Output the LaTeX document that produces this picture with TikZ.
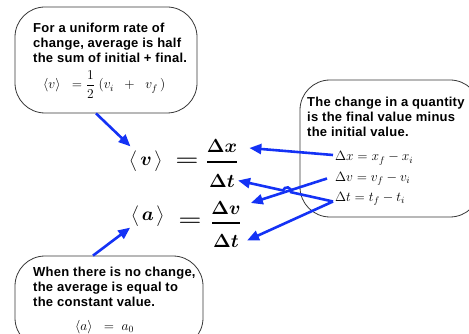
\RequirePackage{fix-cm}
\documentclass[tikz,border=0pt]{standalone}
\usepackage{amsmath}
\usepackage{graphicx}
\usepackage[no-math]{fontspec}
\setmainfont{Liberation Sans}
\newfontfamily\boxfont{Liberation Sans}[LetterSpace=2.0]
\usetikzlibrary{arrows.meta,calc,intersections}
\definecolor{arrowblue}{RGB}{20,50,245}
\definecolor{boxline}{RGB}{55,55,55}
\begin{document}
\begin{tikzpicture}[x=1pt,y=-1pt,
  bubble/.style={draw=boxline,line width=0.8pt,rounded corners=30pt,fill=white,inner sep=0pt},
  note/.style={font=\boxfont\bfseries\fontsize{13}{15}\selectfont,align=left,anchor=base west,inner sep=0pt},
  small/.style={font=\fontsize{13.5}{15}\selectfont,anchor=base west,inner sep=0pt},
  big/.style={font=\fontsize{19}{22}\selectfont\boldmath,inner sep=0pt},
  fracbar/.style={line width=1.6pt},
  link/.style={draw=arrowblue,line width=2.6pt,-{Triangle[length=12pt,width=10pt]}},
]
\useasboundingbox (0,0) rectangle (469,334);
\clip (0,0) rectangle (469,334);

% bubbles
\node[bubble,minimum width=182pt,minimum height=106pt] (box1) at (106,60) {};
\node[bubble,minimum width=180pt,minimum height=137pt] (box2) at (390,148.5) {};
\node[bubble,minimum width=188pt,minimum height=92pt] (box3) at (109,302) {};

% bubble texts (base = last line)
\node[note] (t1) at (33,63) {For a uniform rate of\\change, average is half\\the sum of initial + final.};
\node[note] (t2) at (307,137) {The change in a quantity\\is the final value minus\\the initial value.};
\node[note] (t3) at (33,306) {When there is no change,\\the average is equal to\\the constant value.};

% bubble formulas
\node[small] (f1) at (43,89) {$\langle v\rangle\;\;=\dfrac{1}{2}\;(v_i\;\;+\;\;v_f\,)$};
\node[small] (ex) at (335,161) {$\Delta x = x_f - x_i$};
\node[small] (ev) at (335,181.5) {$\Delta v = v_f - v_i$};
\node[small] (et) at (335,201.5) {$\Delta t = t_f - t_i$};
\node[small] (f3) at (75,330) {$\langle a\rangle\;\;=\;a_0$};

% main formulas
\node[big] (vavg) at (146,161) {$\bigl\langle\mkern2mu v\mkern2mu\bigr\rangle$};
\node[big] (eq1) at (187,162) {\scalebox{1.4}[1]{$=$}};
\node[big] (dx) at (222,146) {$\Delta x$};
\node[big] (dt1) at (222,180.5) {$\Delta t$};
\draw[fracbar] (207,162) -- (237,162);

\node[big] (aavg) at (148,216) {$\bigl\langle\mkern2mu a\mkern2mu\bigr\rangle$};
\node[big] (eq2) at (190,222) {\scalebox{1.4}[1]{$=$}};
\node[big] (dv) at (226,208) {$\Delta v$};
\node[big] (dt2) at (226,240.5) {$\Delta t$};
\draw[fracbar] (212,223) -- (240,223);

% arrow ends
\coordinate (sx) at ([xshift=-2pt,yshift=6pt]ex.base west);
\coordinate (sv) at ([xshift=-8pt,yshift=3pt]ev.base west);
\coordinate (st) at ([xshift=-2pt]et.base west);
\coordinate (dxtip) at ([xshift=12pt,yshift=-2pt]dx.east);
\coordinate (dvtip) at ([xshift=10pt,yshift=5pt]dv.east);
\coordinate (dt1tip) at ([xshift=3pt]dt1.east);
\coordinate (dt2tip) at ([xshift=8pt]dt2.east);

\draw[link] ([xshift=-10pt]box1.south) -- ([xshift=1pt,yshift=3pt]vavg.north west);
\draw[link] ([xshift=-16pt]box3.north) -- ([xshift=-1pt]aavg.south west);

\draw[link] (sx) -- (dxtip);
\draw[link] (sv) -- (dvtip);
\draw[link] (st) -- (dt2tip);

\path[name path=pv] (sv) -- (dvtip);
\path[name path=pt] (st) -- (dt1tip);
\path[name intersections={of=pv and pt,by=X}];
\coordinate (h1) at ($(X)!4pt!(st)$);
\draw[link] let \p1=($(dt1tip)-(st)$), \n1={atan2(\y1,\x1)} in
  (st) -- (h1) arc[start angle=\n1-180, end angle=\n1, radius=4pt] -- (dt1tip);
\end{tikzpicture}
\end{document}
